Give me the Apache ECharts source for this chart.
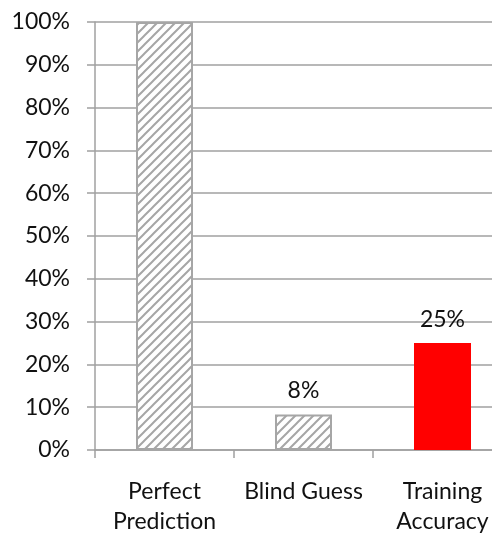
<!DOCTYPE html>
<html>
<head>
<meta charset="utf-8">
<script src="https://cdn.jsdelivr.net/npm/echarts@6/dist/echarts.min.js"></script>
<style>
  html, body { margin: 0; padding: 0; background: #fff; }
  #chart { width: 492px; height: 536px; }
</style>
</head>
<body>
<div id="chart"></div>
<script>
// 数据
const categories = ['Perfect\nPrediction', 'Blind Guess', 'Training\nAccuracy']
const values = [100, 8.3, 25]
const showLabel = [false, true, true]
const yTicks = [0, 10, 20, 30, 40, 50, 60, 70, 80, 90, 100]

// 斜线填充
function hatch() {
  const s = 9
  const c = document.createElement('canvas')
  c.width = s
  c.height = s
  const ctx = c.getContext('2d')
  ctx.fillStyle = '#fff'
  ctx.fillRect(0, 0, s, s)
  ctx.strokeStyle = '#a6a6a6'
  ctx.lineWidth = 2
  ctx.beginPath()
  for (let k = -1; k <= 1; k++) {
    ctx.moveTo(k * s - 1, s + 1)
    ctx.lineTo(k * s + s + 1, -1)
  }
  ctx.stroke()
  return c
}
const pattern = { image: hatch(), repeat: 'repeat' }

const font = 'Lato'
const chart = echarts.init(document.getElementById('chart'))
chart.setOption({
  animation: false,
  // 右边超出画布, 第三个类别的右边界在可见区域外
  grid: { left: 95, width: 417, top: 22, bottom: 86, outerBoundsMode: 'none' },
  xAxis: {
    type: 'category',
    data: categories,
    axisLine: { lineStyle: { color: '#a0a0a0', width: 1.5 } },
    axisTick: { show: true, length: 8, lineStyle: { color: '#a0a0a0', width: 1.5 } },
    axisLabel: { color: '#111', fontSize: 23, fontFamily: font, margin: 27, lineHeight: 30, interval: 0 }
  },
  yAxis: {
    type: 'value',
    min: yTicks[0],
    max: yTicks[yTicks.length - 1],
    interval: 10,
    axisLine: { show: true, lineStyle: { color: '#a0a0a0', width: 1.5 } },
    axisTick: { show: true, length: 8, lineStyle: { color: '#a0a0a0', width: 1.5 } },
    axisLabel: { color: '#111', fontSize: 23, fontFamily: font, margin: 25, formatter: '{value}%' },
    splitLine: { lineStyle: { color: '#a0a0a0', width: 1.5 } }
  },
  series: [{
    type: 'bar',
    barWidth: 57,
    data: values.map((v, i) => ({
      value: v,
      itemStyle: i === 2
        ? { color: '#ff0000' }
        : { color: pattern, borderColor: '#a6a6a6', borderWidth: 2 },
      label: {
        show: showLabel[i],
        position: 'top',
        distance: 12,
        color: '#111',
        fontSize: 23,
        fontFamily: font,
        formatter: p => Math.round(p.value) + '%'
      }
    }))
  }]
})
</script>
</body>
</html>
